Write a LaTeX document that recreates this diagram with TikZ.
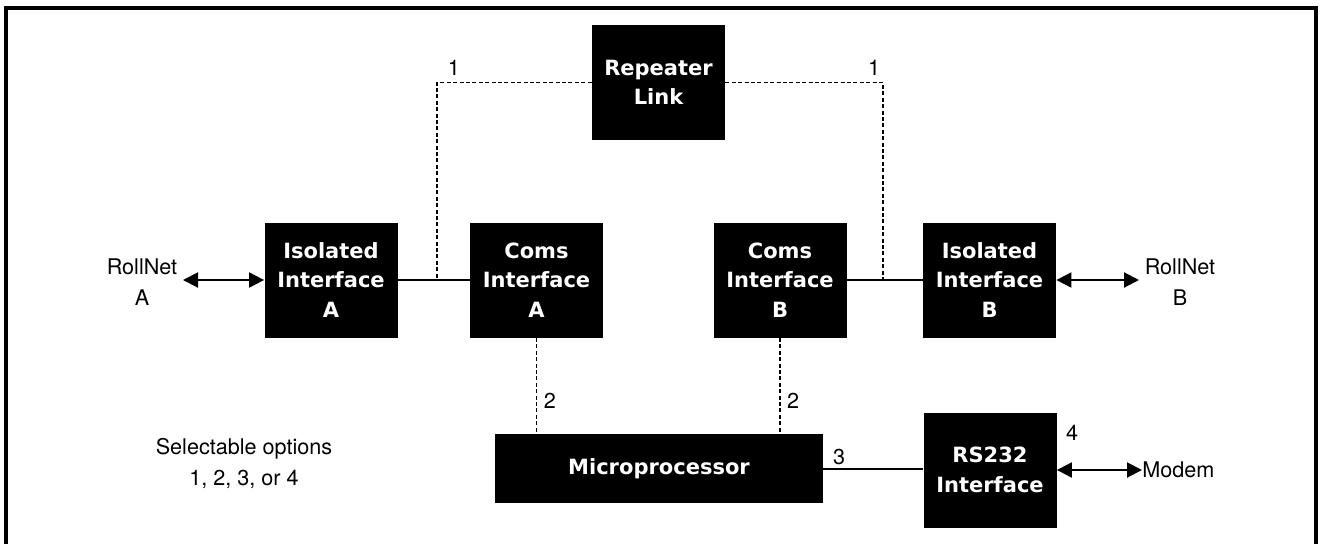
\documentclass[tikz,border=0pt]{standalone}
\usepackage{fontspec}
\setmainfont{TeX Gyre Heros}
\newfontfamily\blocfont{DejaVu Sans}
\usetikzlibrary{arrows.meta,positioning,calc}

\begin{document}
\begin{tikzpicture}[x=0.5pt, y=-0.5pt,
    bloc/.style={fill=black, text=white, align=center, inner sep=0pt,
        minimum width=66.5pt, minimum height=57.5pt,
        font=\blocfont\bfseries\fontsize{10.5}{14.75}\selectfont},
    lien/.style={line width=1pt},
    option/.style={line width=0.8pt, dash pattern=on 2pt off 1.2pt},
    fleche/.style={line width=1pt, {Triangle[length=7.5pt,width=7.5pt]}-{Triangle[length=7.5pt,width=7.5pt]}},
    lbl/.style={font=\fontsize{10.8}{15.5}\selectfont, align=center, inner sep=0pt}]
% Cadre
\useasboundingbox (0,0) rectangle (1324,543);
\draw[line width=2pt] (6,560) -- (6,8) -- (1316,8) -- (1316,560);

% Blocs
\node[bloc] (rep) at (658.5,82.5) {Repeater\\Link};
\node[bloc] (isoA) at (331,280) {Isolated\\Interface\\A};
\node[bloc] (comsA) at (536.5,280) {Coms\\Interface\\A};
\node[bloc] (comsB) at (780,280) {Coms\\Interface\\B};
\node[bloc] (isoB) at (989.5,280) {Isolated\\Interface\\B};
\node[bloc, minimum width=164pt, minimum height=34.5pt] (micro) at (659,468.5) {Microprocessor};
\node[bloc] (rs) at (990,470) {RS232\\Interface};

% Textes
\node[lbl] (rnA) at (142,282) {RollNet\\A};
\node[lbl] (rnB) at (1180,282) {RollNet\\B};
\node[lbl, anchor=west] (modem) at (1142,470) {Modem};
\node[lbl] (opts) at (244,464) {Selectable options\\1, 2, 3, or 4};

% Numeros des options
\foreach \nom/\x/\y/\txt in {n1a/454/68/1, n1b/874/68/1, n2a/550/401/2,
    n2b/793/401/2, n3/839/457/3, n4/1072/433/4} {
    \node[lbl] (\nom) at (\x,\y) {\txt};
}

% Liaisons
\draw[lien] (isoA.east) -- (comsA.west);
\draw[lien] (comsB.east) -- (isoB.west);
\draw[lien] (micro.east) -- (micro.east -| rs.west);

\coordinate (jA) at (437,280);
\coordinate (jB) at (883,280);
\draw[option] (rep.west) -| (jA);
\draw[option] (rep.east) -| (jB);
\draw[option] (comsA.south) -- (comsA.south |- micro.north);
\draw[option] (comsB.south) -- (comsB.south |- micro.north);

% Fleches
\coordinate (pA) at (183,280);
\coordinate (pB) at (1139,280);
\draw[fleche] (pA) -- (isoA.west);
\draw[fleche] (isoB.east) -- (pB);
\draw[fleche] (rs.east) -- (modem.west);

\end{tikzpicture}
\end{document}
